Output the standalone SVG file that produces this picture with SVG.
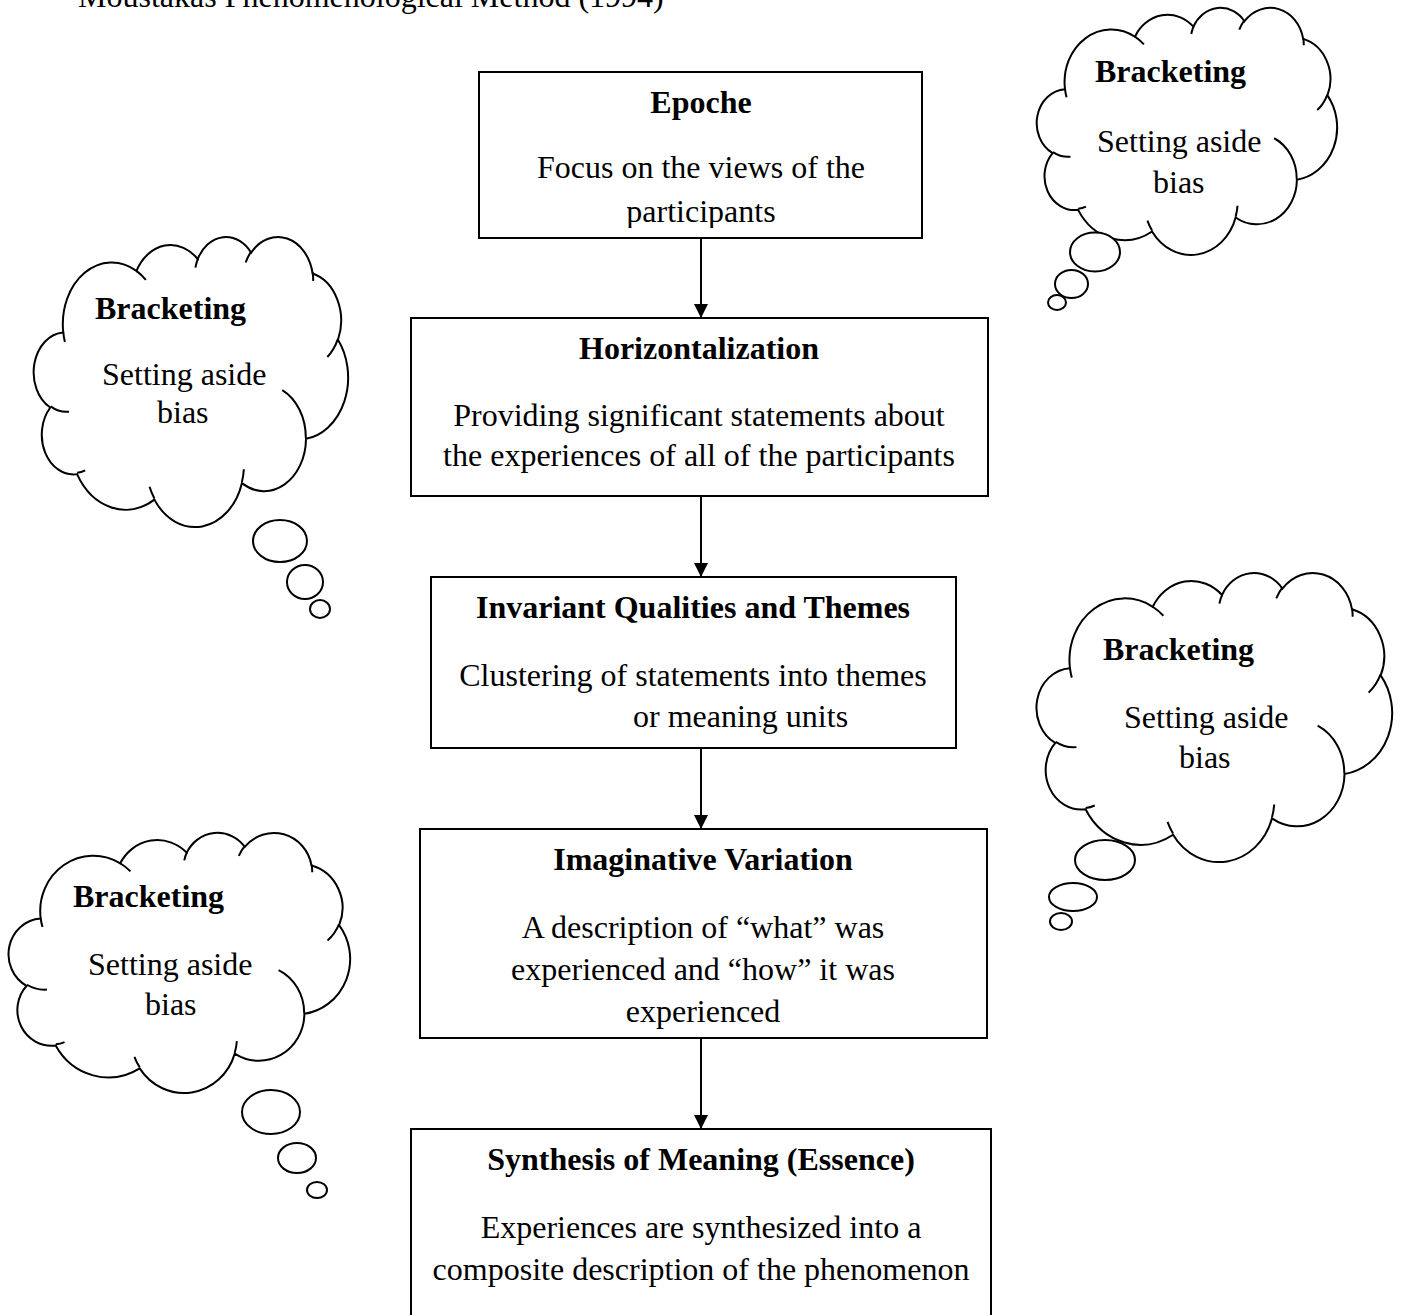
<svg xmlns="http://www.w3.org/2000/svg" xmlns:xlink="http://www.w3.org/1999/xlink" width="1403" height="1315" viewBox="0 0 1403 1315">
<style>
  .box { fill: #ffffff; stroke: #000000; stroke-width: 2; }
  .t { font-family: "Liberation Serif", "Times New Roman", serif; font-size: 32px; fill: #000000; }
  .b { font-weight: bold; }
  .c { text-anchor: middle; }
  .conn { stroke: #000000; stroke-width: 2; fill: none; }
  .cloud-o { fill: #ffffff; stroke: #000000; stroke-width: 2; vector-effect: non-scaling-stroke; }
  .cloud-i { fill: none; stroke: #000000; stroke-width: 2; vector-effect: non-scaling-stroke; }
  .bub { fill: #ffffff; stroke: #000000; stroke-width: 2; }
</style>
<defs>
  <marker id="arrow" markerUnits="userSpaceOnUse" markerWidth="14" markerHeight="14" refX="14" refY="7" orient="auto">
    <path d="M0,0 L14,7 L0,14 Z" fill="#000000"/>
  </marker>
  <g id="cloudShape">
    <path class="cloud-o" d="M3900 14370 A6753 9190 0 0 1 14005 5202 A5333 7267 0 0 1 22457 3435 A4365 5945 0 0 1 29833 2482 A4857 6595 0 0 1 38318 5578 A5333 7273 0 0 1 41818 15461 A6775 9220 0 0 1 37406 30207 A5785 7867 0 0 1 28557 36817 A6752 9215 0 0 1 16482 39269 A7720 10543 0 0 1 5805 35472 A4360 5918 0 0 1 2113 25551 A4345 5945 0 0 1 3900 14370 Z"/>
    <path class="cloud-i" d="M4693 26177 A4345 5945 0 0 1 2160 25380 M6928 34899 A4360 5918 0 0 1 5820 35281 M16478 39090 A6752 9215 0 0 1 15810 37349 M28827 34751 A6752 9215 0 0 1 28560 36660 M34129 22954 A5785 7867 0 0 1 37380 30090 M41798 15354 A5333 7273 0 0 1 40350 18030 M38324 5426 A4857 6595 0 0 1 38400 6690 M29078 3952 A4857 6595 0 0 1 29821 2338 M22141 4720 A4365 5945 0 0 1 22500 3331 M14000 5192 A6753 9190 0 0 1 15301 6542 M4127 15789 A6753 9190 0 0 1 3900 14371"/>
  </g>
  <clipPath id="clipBox1">
    <rect x="479" y="72" width="443" height="156"/>
  </clipPath>
</defs>

<rect x="0" y="0" width="1403" height="1315" fill="#ffffff"/>

<text id="title" class="t" x="78" y="7">Moustakas Phenomenological Method (1994)</text>

<g id="connectors">
  <line class="conn" x1="701" y1="238" x2="701" y2="318" marker-end="url(#arrow)"/>
  <line class="conn" x1="701" y1="496" x2="701" y2="577" marker-end="url(#arrow)"/>
  <line class="conn" x1="701" y1="748" x2="701" y2="829" marker-end="url(#arrow)"/>
  <line class="conn" x1="701" y1="1038" x2="701" y2="1129" marker-end="url(#arrow)"/>
</g>

<g id="node-epoche">
  <rect class="box" x="479" y="72" width="443" height="166"/>
  <g clip-path="url(#clipBox1)">
    <text class="t b c" x="701" y="113">Epoche</text>
    <text class="t c" x="701" y="178">Focus on the views of the</text>
    <text class="t c" x="701" y="222">participants</text>
  </g>
</g>

<g id="node-horizontalization">
  <rect class="box" x="411" y="318" width="577" height="178"/>
  <text class="t b c" x="699" y="359">Horizontalization</text>
  <text class="t c" x="699" y="426">Providing significant statements about</text>
  <text class="t c" x="699" y="466">the experiences of all of the participants</text>
</g>

<g id="node-invariant">
  <rect class="box" x="431" y="577" width="525" height="171"/>
  <text class="t b c" x="693" y="618">Invariant Qualities and Themes</text>
  <text class="t c" x="693" y="686">Clustering of statements into themes</text>
  <text class="t" x="633" y="727">or meaning units</text>
</g>

<g id="node-imaginative">
  <rect class="box" x="420" y="829" width="567" height="209"/>
  <text class="t b c" x="703" y="870">Imaginative Variation</text>
  <text class="t c" x="703" y="938">A description of “what” was</text>
  <text class="t c" x="703" y="980">experienced and “how” it was</text>
  <text class="t c" x="703" y="1022">experienced</text>
</g>

<g id="node-synthesis">
  <rect class="box" x="411" y="1129" width="580" height="200"/>
  <text class="t b c" x="701" y="1170">Synthesis of Meaning (Essence)</text>
  <text class="t c" x="701" y="1238">Experiences are synthesized into a</text>
  <text class="t c" x="701" y="1280">composite description of the phenomenon</text>
</g>

<g id="cloud-top-right">
  <use xlink:href="#cloudShape" href="#cloudShape" transform="translate(1038,7) scale(0.006921,0.005718)"/>
  <ellipse class="bub" cx="1095" cy="252" rx="25" ry="19.5"/>
  <ellipse class="bub" cx="1071.5" cy="284" rx="16.5" ry="14"/>
  <ellipse class="bub" cx="1057" cy="302.5" rx="9" ry="7.5"/>
  <text class="t b" x="1095" y="82">Bracketing</text>
  <text class="t" x="1097" y="152">Setting aside</text>
  <text class="t" x="1153" y="193">bias</text>
</g>

<g id="cloud-left-1">
  <use xlink:href="#cloudShape" href="#cloudShape" transform="translate(35,236) scale(0.007245,0.006713)"/>
  <ellipse class="bub" cx="280" cy="541" rx="27" ry="21"/>
  <ellipse class="bub" cx="305" cy="582" rx="18" ry="17"/>
  <ellipse class="bub" cx="320" cy="609" rx="10" ry="9"/>
  <text class="t b" x="95" y="319">Bracketing</text>
  <text class="t" x="102" y="385">Setting aside</text>
  <text class="t" x="157" y="423">bias</text>
</g>

<g id="cloud-right-2">
  <use xlink:href="#cloudShape" href="#cloudShape" transform="translate(1038,572) scale(0.008194,0.006690)"/>
  <ellipse class="bub" cx="1105" cy="860" rx="30" ry="20"/>
  <ellipse class="bub" cx="1073" cy="897" rx="24" ry="14"/>
  <ellipse class="bub" cx="1061" cy="921.5" rx="11" ry="8.5"/>
  <text class="t b" x="1103" y="660">Bracketing</text>
  <text class="t" x="1124" y="728">Setting aside</text>
  <text class="t" x="1179" y="768">bias</text>
</g>

<g id="cloud-left-2">
  <use xlink:href="#cloudShape" href="#cloudShape" transform="translate(10,832) scale(0.007870,0.006019)"/>
  <ellipse class="bub" cx="271" cy="1112" rx="29" ry="22"/>
  <ellipse class="bub" cx="297" cy="1158" rx="19" ry="15"/>
  <ellipse class="bub" cx="317" cy="1190" rx="10" ry="8"/>
  <text class="t b" x="73" y="907">Bracketing</text>
  <text class="t" x="88" y="975">Setting aside</text>
  <text class="t" x="145" y="1015">bias</text>
</g>
</svg>
